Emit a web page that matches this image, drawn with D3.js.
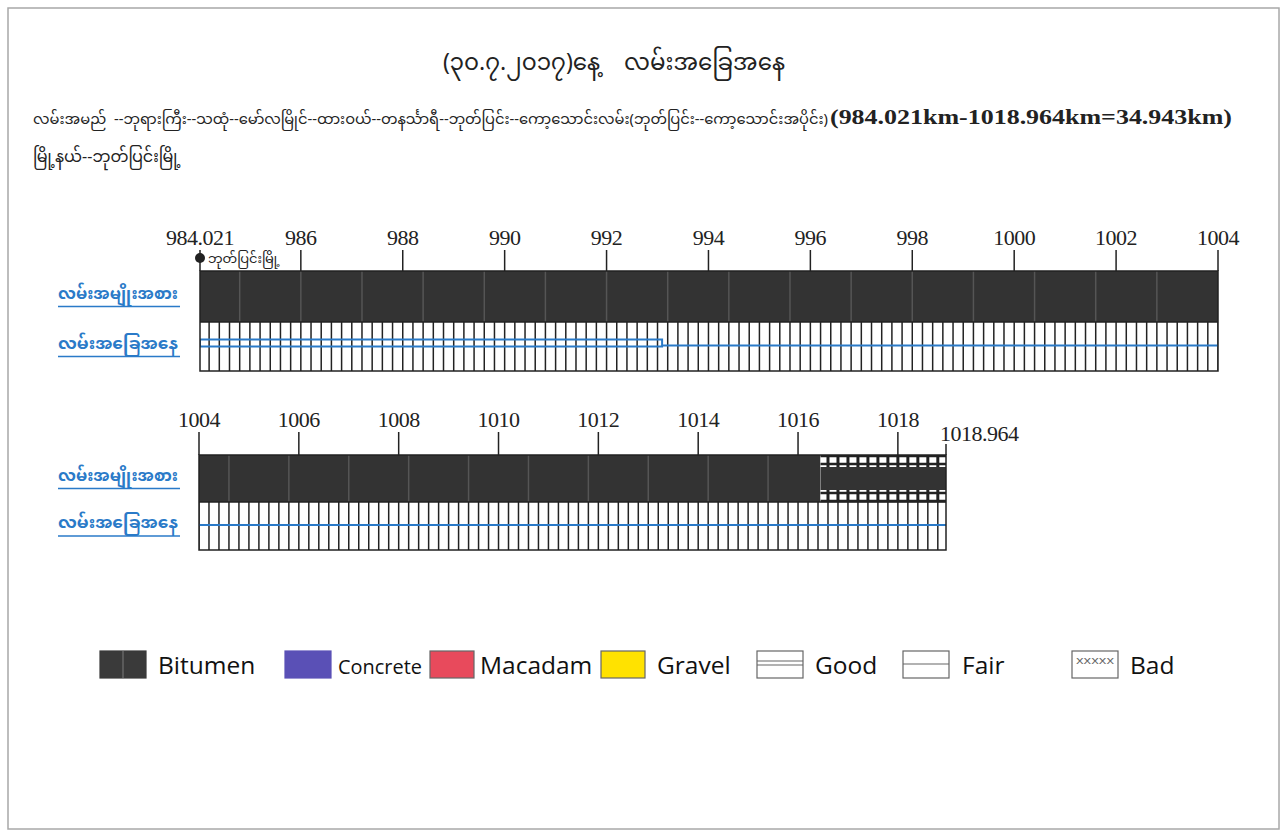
<!DOCTYPE html>
<html>
<head>
<meta charset="utf-8">
<script src="https://cdn.jsdelivr.net/npm/d3@7"></script>
<style>
  body { margin: 0; background: #fff; }
  .mm { font-family: "Noto Sans Myanmar", "Padauk", "Myanmar Text", "Noto Sans", sans-serif; }
  .num { font-family: "Liberation Serif", "DejaVu Serif", serif; }
  .leg { font-family: "Open Sans", "Noto Sans", sans-serif; }
</style>
</head>
<body>
<div id="chart"></div>
<script>
// chainage rows (km)
const rows = [
  { start: 984.021, end: 1004 },
  { start: 1004, end: 1018.964 }
];
const rowTicks = [
  ["984.021", 986, 988, 990, 992, 994, 996, 998, 1000, 1002, 1004],
  [1004, 1006, 1008, 1010, 1012, 1014, 1016, 1018, "1018.964"]
];
// surface type segments
const surface = [
  { from: 984.021, to: 1016.45, type: "Bitumen", narrow: false },
  { from: 1016.45, to: 1018.964, type: "Bitumen", narrow: true }
];
// road condition segments
const condition = [
  { from: 984.021, to: 993.09, cond: "Good" },
  { from: 993.09, to: 1018.964, cond: "Fair" }
];
const legendItems = ["Bitumen", "Concrete", "Macadam", "Gravel", "Good", "Fair", "Bad"];

const title = "(၃၀.၇.၂၀၁၇)နေ့    လမ်းအခြေအနေ";
const roadName = "လမ်းအမည်  --ဘုရားကြီး--သထုံ--မော်လမြိုင်--ထားဝယ်--တနင်္သာရီ--ဘုတ်ပြင်း--ကော့သောင်းလမ်း(ဘုတ်ပြင်း--ကော့သောင်းအပိုင်း)";
const roadKm = "(984.021km-1018.964km=34.943km)";
const township = "မြို့နယ်--ဘုတ်ပြင်းမြို့";
const startTown = "ဘုတ်ပြင်းမြို့";
const rowLabels = ["လမ်းအမျိုးအစား", "လမ်းအခြေအနေ"];

const width = 1285, height = 832;
const svg = d3.select("#chart").append("svg")
  .attr("width", width).attr("height", height);

// page frame
svg.append("rect").attr("x", 8).attr("y", 8).attr("width", 1271).attr("height", 821)
  .attr("fill", "#fff").attr("stroke", "#a8a8a8").attr("stroke-width", 1.5);

// heading
svg.append("text").attr("class", "mm").attr("x", 614).attr("y", 70)
  .attr("text-anchor", "middle").attr("font-size", 23).attr("fill", "#222")
  .style("white-space", "pre").text(title);

const sub = svg.append("text").attr("class", "mm").attr("y", 124)
  .attr("fill", "#222").style("white-space", "pre");
sub.append("tspan").attr("x", 33).attr("font-size", 15)
  .attr("textLength", 795).attr("lengthAdjust", "spacingAndGlyphs").text(roadName);
sub.append("tspan").attr("class", "num").attr("x", 830).attr("font-size", 22).attr("font-weight", "bold")
  .attr("textLength", 402).attr("lengthAdjust", "spacingAndGlyphs").text(roadKm);

svg.append("text").attr("class", "mm").attr("x", 33).attr("y", 162)
  .attr("font-size", 16).attr("fill", "#222").text(township);

// row geometry
const layout = [
  { range: [200, 1218], labelY: 245, tickTop: 250, typeTop: 271, typeBot: 322, condBot: 371 },
  { range: [199, 946], labelY: 427, tickTop: 432, typeTop: 455, typeBot: 502, condBot: 550 }
];
const blue = "#2a7ac8";

rows.forEach((r, i) => {
  const L = layout[i];
  const x = d3.scaleLinear().domain([r.start, r.end]).range(L.range);
  const g = svg.append("g");
  const clipId = "clip" + i;
  svg.append("clipPath").attr("id", clipId).append("rect")
    .attr("x", x(r.start)).attr("y", L.typeTop).attr("width", x(r.end) - x(r.start)).attr("height", L.condBot - L.typeTop);
  const band = g.append("g").attr("clip-path", `url(#${clipId})`);

  // 200 m grid positions
  const grid = d3.range(Math.ceil(r.start * 5) / 5, r.end + 1e-6, 0.2);

  // surface type
  surface.forEach(s => {
    const a = Math.max(s.from, r.start), b = Math.min(s.to, r.end);
    if (b <= a) return;
    if (!s.narrow) {
      band.append("rect").attr("x", x(a)).attr("y", L.typeTop).attr("width", x(b) - x(a))
        .attr("height", L.typeBot - L.typeTop).attr("fill", "#333");
      // faint scan stripes in the bitumen fill
      grid.filter((v, k) => k % 6 === 3 && v > a && v < b).forEach(v => {
        band.append("line").attr("x1", x(v)).attr("x2", x(v)).attr("y1", L.typeTop).attr("y2", L.typeBot)
          .attr("stroke", "#555").attr("stroke-width", 1.5);
      });
    } else {
      const inset = 12;
      band.append("rect").attr("x", x(a)).attr("y", L.typeTop).attr("width", x(b) - x(a))
        .attr("height", L.typeBot - L.typeTop).attr("fill", "#fff");
      grid.filter(v => v >= a && v <= b).forEach(v => {
        band.append("line").attr("x1", x(v)).attr("x2", x(v)).attr("y1", L.typeTop).attr("y2", L.typeBot)
          .attr("stroke", "#222").attr("stroke-width", 3);
      });
      [L.typeTop + 1, L.typeTop + inset - 3, L.typeBot - inset + 3, L.typeBot - 1].forEach(yy => {
        band.append("line").attr("x1", x(a)).attr("x2", x(b)).attr("y1", yy).attr("y2", yy)
          .attr("stroke", "#222").attr("stroke-width", 2.5);
      });
      band.append("rect").attr("x", x(a)).attr("y", L.typeTop + inset).attr("width", x(b) - x(a))
        .attr("height", L.typeBot - L.typeTop - 2 * inset).attr("fill", "#333");
    }
  });

  // condition band grid
  grid.forEach(v => {
    band.append("line").attr("x1", x(v)).attr("x2", x(v)).attr("y1", L.typeBot).attr("y2", L.condBot)
      .attr("stroke", "#222").attr("stroke-width", 1.5);
  });
  const midY = (L.typeBot + L.condBot) / 2;
  condition.forEach(c => {
    const a = Math.max(c.from, r.start), b = Math.min(c.to, r.end);
    if (b <= a) return;
    if (c.cond === "Good") {
      band.append("rect").attr("x", x(a)).attr("y", midY - 7).attr("width", x(b) - x(a)).attr("height", 7)
        .attr("fill", "none").attr("stroke", blue).attr("stroke-width", 2);
    } else {
      band.append("line").attr("x1", x(a)).attr("x2", x(b)).attr("y1", midY - 1).attr("y2", midY - 1)
        .attr("stroke", blue).attr("stroke-width", 2);
    }
  });
  // band outline
  g.append("rect").attr("x", x(r.start)).attr("y", L.typeTop).attr("width", x(r.end) - x(r.start))
    .attr("height", L.condBot - L.typeTop).attr("fill", "none").attr("stroke", "#222").attr("stroke-width", 1.5);
  g.append("line").attr("x1", x(r.start)).attr("x2", x(r.end)).attr("y1", L.typeBot).attr("y2", L.typeBot)
    .attr("stroke", "#222").attr("stroke-width", 1.5);

  // chainage ticks
  const ticks = rowTicks[i];
  ticks.forEach((t, k) => {
    const v = +t;
    const isEnd = typeof t === "string" && k === ticks.length - 1;
    const tx = x(v);
    g.append("line").attr("x1", tx).attr("x2", tx).attr("y1", isEnd ? L.tickTop + 12 : L.tickTop).attr("y2", L.typeTop)
      .attr("stroke", "#222").attr("stroke-width", 1.5);
    g.append("text").attr("class", "num").attr("x", isEnd ? tx - 6 : tx).attr("y", isEnd ? L.labelY + 14 : L.labelY)
      .attr("text-anchor", isEnd ? "start" : "middle").attr("font-size", 22).attr("fill", "#222")
      .attr("letter-spacing", -0.5).text(t);
  });
  if (i === 0) {
    g.append("circle").attr("cx", x(r.start)).attr("cy", 258).attr("r", 5).attr("fill", "#222");
    g.append("text").attr("class", "mm").attr("x", x(r.start) + 8).attr("y", 263)
      .attr("font-size", 13).attr("fill", "#222").text(startTown);
  }

  // row labels
  [[L.typeTop, L.typeBot], [L.typeBot, L.condBot]].forEach((yy, k) => {
    const cy = (yy[0] + yy[1]) / 2;
    g.append("text").attr("class", "mm").attr("x", 58).attr("y", cy + 2)
      .attr("font-size", 15.5).attr("font-weight", "bold").attr("fill", blue)
      .attr("textLength", 120).attr("lengthAdjust", "spacingAndGlyphs").text(rowLabels[k]);
    g.append("line").attr("x1", 58).attr("x2", 180).attr("y1", cy + 10).attr("y2", cy + 10)
      .attr("stroke", blue).attr("stroke-width", 1.5);
  });
});

// legend
const legPos = {
  Bitumen: [100, 158], Concrete: [285, 338], Macadam: [430, 480], Gravel: [601, 657],
  Good: [757, 815], Fair: [903, 962], Bad: [1072, 1130]
};
const legFill = { Bitumen: "#3a3a3a", Concrete: "#5a50b6", Macadam: "#e84a5c", Gravel: "#ffe200",
  Good: "#fff", Fair: "#fff", Bad: "#fff" };
const lg = svg.append("g");
legendItems.forEach(name => {
  const [sx, tx] = legPos[name];
  const sw = name === "Macadam" || name === "Gravel" ? 44 : 46;
  lg.append("rect").attr("x", sx).attr("y", 651).attr("width", sw).attr("height", 27)
    .attr("fill", legFill[name])
    .attr("stroke", name === "Bitumen" || name === "Concrete" ? legFill[name] : "#666")
    .attr("stroke-width", 1.2);
  if (name === "Bitumen") {
    lg.append("line").attr("x1", sx + 23).attr("x2", sx + 23).attr("y1", 651).attr("y2", 678)
      .attr("stroke", "#666").attr("stroke-width", 1.5);
  }
  if (name === "Good") {
    [661, 665].forEach(yy => lg.append("line").attr("x1", sx).attr("x2", sx + sw).attr("y1", yy).attr("y2", yy)
      .attr("stroke", "#666").attr("stroke-width", 1.2));
  }
  if (name === "Fair") {
    lg.append("line").attr("x1", sx).attr("x2", sx + sw).attr("y1", 664).attr("y2", 664)
      .attr("stroke", "#666").attr("stroke-width", 1.2);
  }
  if (name === "Bad") {
    lg.append("text").attr("class", "leg").attr("x", sx + sw / 2).attr("y", 664)
      .attr("text-anchor", "middle").attr("font-size", 11).attr("fill", "#666")
      .attr("textLength", 38).attr("lengthAdjust", "spacingAndGlyphs").text("xxxxx");
  }
  const lt = lg.append("text").attr("class", "leg").attr("x", tx).attr("y", 674)
    .attr("font-size", name === "Concrete" ? 20 : 24.5).attr("fill", "#111").text(name);
  if (name === "Concrete") lt.attr("textLength", 84).attr("lengthAdjust", "spacingAndGlyphs");
});
</script>
</body>
</html>
